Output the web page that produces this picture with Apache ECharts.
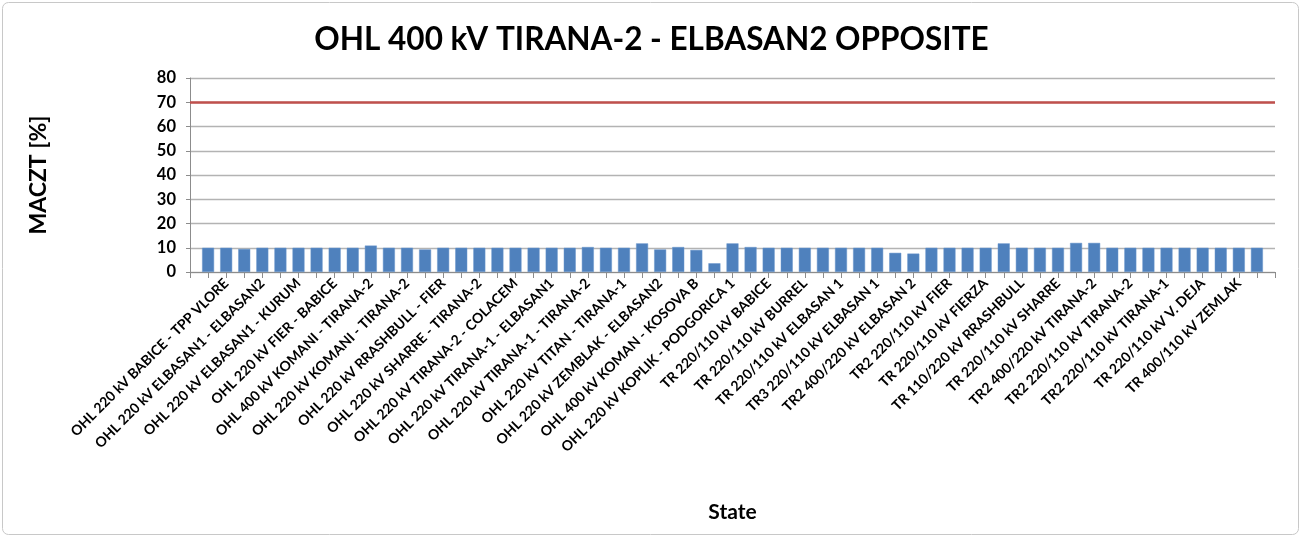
<!DOCTYPE html>
<html>
<head>
<meta charset="utf-8">
<script src="https://cdn.jsdelivr.net/npm/echarts@6/dist/echarts.min.js"></script>
<style>
html,body{margin:0;padding:0;background:#fff;}
#chart{width:1303px;height:540px;}
</style>
</head>
<body>
<div id="chart"></div>
<script>
// 59 bars; only every other category name is visible on the axis.
const categories = [
  '', 'OHL 220 kV BABICE - TPP VLORE',
  '', 'OHL 220 kV ELBASAN1 - ELBASAN2',
  '', 'OHL 220 kV ELBASAN1 - KURUM',
  '', 'OHL 220 kV FIER - BABICE',
  '', 'OHL 400 kV KOMANI - TIRANA-2',
  '', 'OHL 220 kV KOMANI - TIRANA-2',
  '', 'OHL 220 kV RRASHBULL - FIER',
  '', 'OHL 220 kV SHARRE - TIRANA-2',
  '', 'OHL 220 kV TIRANA-2 - COLACEM',
  '', 'OHL 220 kV TIRANA-1 - ELBASAN1',
  '', 'OHL 220 kV TIRANA-1 - TIRANA-2',
  '', 'OHL 220 kV TITAN - TIRANA-1',
  '', 'OHL 220 kV ZEMBLAK - ELBASAN2',
  '', 'OHL 400 kV KOMAN - KOSOVA B',
  '', 'OHL 220 kV KOPLIK - PODGORICA 1',
  '', 'TR 220/110 kV BABICE',
  '', 'TR 220/110 kV BURREL',
  '', 'TR 220/110 kV ELBASAN 1',
  '', 'TR3 220/110 kV ELBASAN 1',
  '', 'TR2 400/220 kV ELBASAN 2',
  '', 'TR2 220/110 kV FIER',
  '', 'TR 220/110 kV FIERZA',
  '', 'TR 110/220 kV RRASHBULL',
  '', 'TR 220/110 kV SHARRE',
  '', 'TR2 400/220 kV TIRANA-2',
  '', 'TR2 220/110 kV TIRANA-2',
  '', 'TR2 220/110 kV TIRANA-1',
  '', 'TR 220/110 kV V. DEJA',
  '', 'TR 400/110 kV ZEMLAK',
  ''
];

const maczt = [
  10, 10, 9.5, 10, 10, 10, 10, 10, 10, 10.9,
  10, 10, 9.3, 10, 10, 10, 10, 10, 10, 10,
  10, 10.3, 10, 10, 11.8, 9.3, 10.3, 9.1, 3.6, 11.8,
  10.3, 10, 10, 10, 10, 10, 10, 10, 7.9, 7.6,
  10, 10, 10, 10, 11.8, 10, 10, 10, 12, 12,
  10, 10, 10, 10, 10, 10, 10, 10, 10
];

const limitValue = 70;
const yTicks = [0, 10, 20, 30, 40, 50, 60, 70, 80];

const titleText = 'OHL 400 kV TIRANA-2 - ELBASAN2 OPPOSITE';
const yName = 'MACZT [%]';
const xName = 'State';

const FONT = 'Lato, "Liberation Sans", sans-serif';

// empty padding slot at each end so the bars sit on the ticks
const axisData = [''].concat(categories, ['']);
const seriesData = [null].concat(maczt, [null]);

const chart = echarts.init(document.getElementById('chart'), null, {renderer: 'canvas'});
chart.setOption({
  animation: false,
  backgroundColor: '#ffffff',
  textStyle: {fontFamily: FONT},
  title: {
    text: titleText,
    left: 'center',
    top: 19,
    textStyle: {fontFamily: FONT, fontWeight: 'bold', fontSize: 31.5, color: '#000'}
  },
  graphic: [{
    type: 'rect',
    shape: {x: 2.5, y: 2.5, width: 1296, height: 532, r: 6},
    style: {fill: 'none', stroke: '#c8c8c8', lineWidth: 1},
    silent: true
  }],
  grid: {left: 190, right: 28, top: 78, bottom: 268, containLabel: false},
  xAxis: {
    type: 'category',
    data: axisData,
    boundaryGap: false,
    name: xName,
    nameLocation: 'middle',
    nameGap: 230,
    nameTextStyle: {fontFamily: FONT, fontWeight: 'bold', fontSize: 21, color: '#000'},
    axisLine: {show: true, lineStyle: {color: '#8c8c8c', width: 1}},
    axisTick: {show: true, interval: 0, length: 6, lineStyle: {color: '#8c8c8c'}},
    axisLabel: {
      interval: 0, rotate: 45, margin: 9,
      fontFamily: FONT, fontWeight: 'bold', fontSize: 14, color: '#000'
    },
    splitLine: {show: false}
  },
  yAxis: {
    type: 'value',
    min: yTicks[0],
    max: yTicks[yTicks.length - 1],
    interval: 10,
    name: yName,
    nameLocation: 'middle',
    nameRotate: 90,
    nameGap: 140,
    nameTextStyle: {fontFamily: FONT, fontWeight: 'bold', fontSize: 23, color: '#000'},
    axisLine: {show: true, lineStyle: {color: '#8c8c8c', width: 1}},
    axisTick: {show: true, length: 4, lineStyle: {color: '#8c8c8c'}},
    axisLabel: {margin: 14, fontFamily: FONT, fontWeight: 'bold', fontSize: 16.5, color: '#000'},
    splitLine: {show: true, lineStyle: {color: '#b3b3b3', width: 1.3}}
  },
  series: [{
    type: 'bar',
    data: seriesData,
    barWidth: 12,
    itemStyle: {color: '#4f81bd', borderColor: '#6a96cc', borderWidth: 0.5},
    markLine: {
      silent: true,
      symbol: ['none', 'none'],
      label: {show: false},
      lineStyle: {color: '#c0504d', width: 2.5, type: 'solid'},
      data: [{yAxis: limitValue}]
    }
  }]
});
</script>
</body>
</html>
